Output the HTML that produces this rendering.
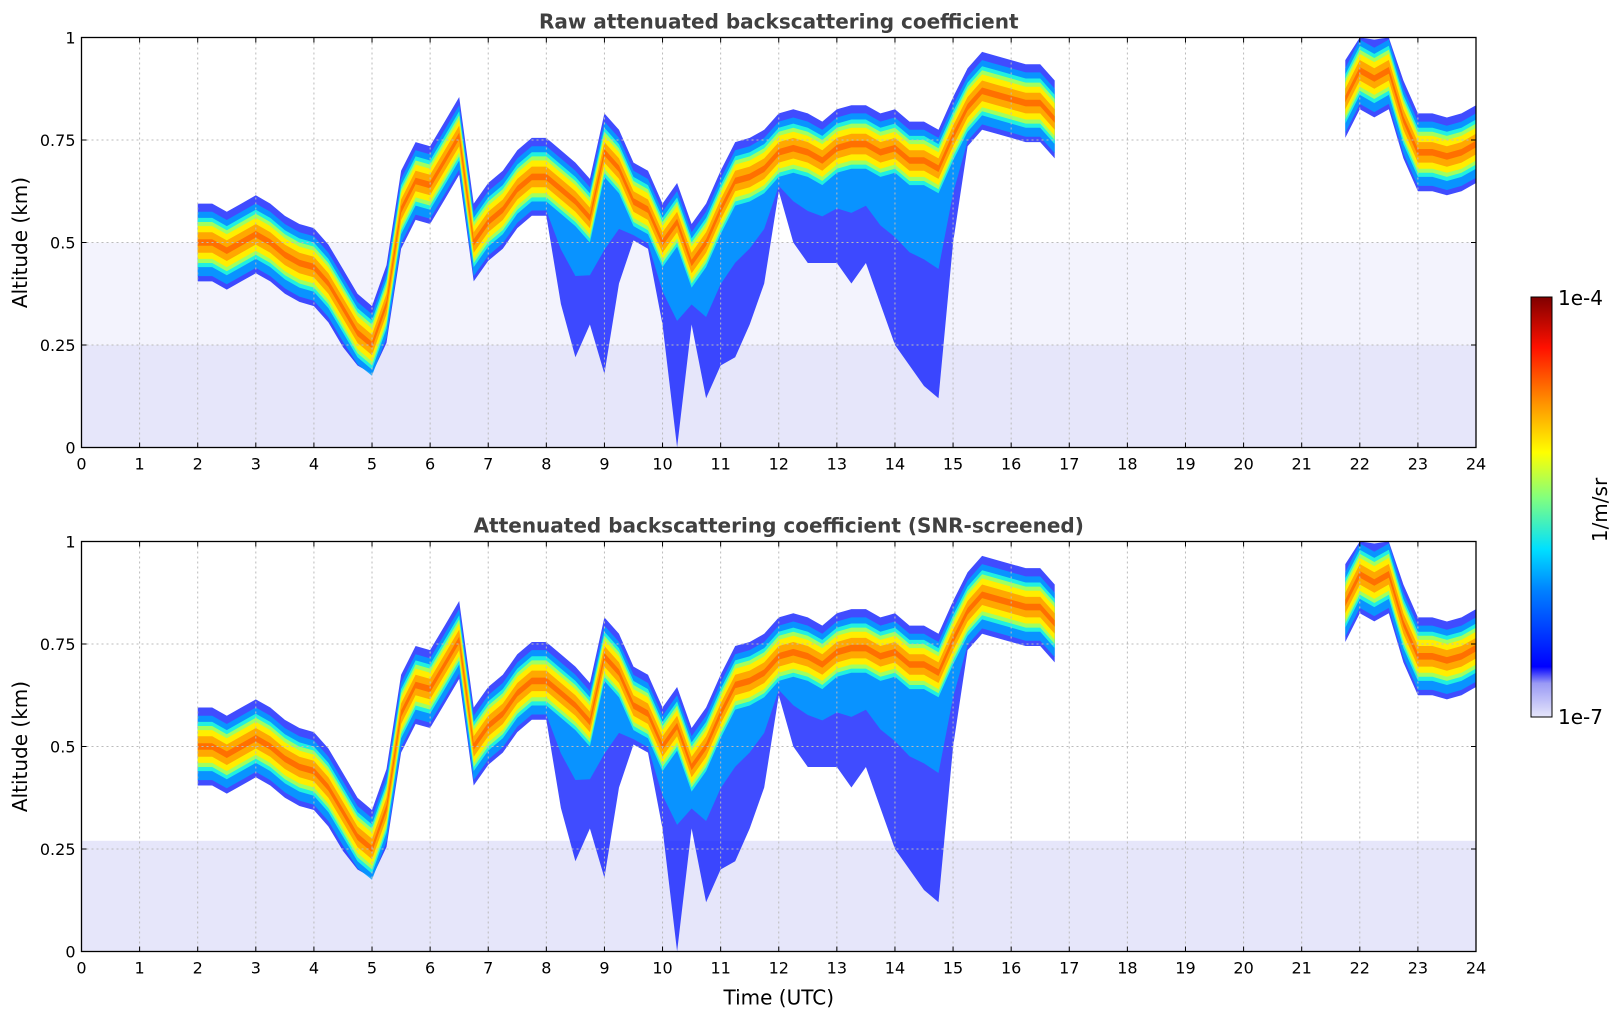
<!DOCTYPE html>
<html><head><meta charset="utf-8"><style>
html,body{margin:0;padding:0;background:#fff;}
svg{display:block;font-family:"DejaVu Sans","Liberation Sans",sans-serif;}
</style></head><body>
<svg id="chart" width="1621" height="1020" viewBox="0 0 1621 1020" xmlns="http://www.w3.org/2000/svg">
<defs>
<linearGradient id="cbar" x1="0" y1="1" x2="0" y2="0">
<stop offset="0" stop-color="#e6e6fa"/><stop offset="0.08" stop-color="#9a9af5"/><stop offset="0.12" stop-color="#0000ff"/>
<stop offset="0.3" stop-color="#0080ff"/><stop offset="0.4" stop-color="#00e0ff"/><stop offset="0.52" stop-color="#80ff80"/>
<stop offset="0.63" stop-color="#ffff00"/><stop offset="0.75" stop-color="#ff9000"/><stop offset="0.88" stop-color="#ff1000"/><stop offset="1" stop-color="#800000"/>
</linearGradient>
</defs>
<g id="panels"></g>
<g>
<rect x="1531" y="297" width="21" height="420" fill="url(#cbar)" stroke="#000" stroke-width="1"/>
<text x="1558" y="305" font-size="20">1e-4</text>
<text x="1558" y="724" font-size="20">1e-7</text>
<text transform="translate(1607,510) rotate(-90)" font-size="20" text-anchor="middle">1/m/sr</text>
</g>
</svg>
<script>
const times = [];
for (let i = 0; i <= 96; i++) times.push(i * 0.25);
const n = null;
const cloudCenter = [n,n,n,n,n,n,n,n,
0.50,0.50,0.48,0.50,0.52,0.50,0.47,0.45,0.44,0.40,0.34,0.28,0.25,0.35,0.58,0.65,0.64,0.70,0.76,0.50,0.55,0.58,0.63,0.66,0.66,0.63,0.60,0.56,0.72,0.68,0.60,0.58,0.50,0.55,0.45,0.50,0.58,0.65,0.66,0.68,0.72,0.73,0.72,0.70,0.73,0.74,0.74,0.72,0.73,0.70,0.70,0.68,0.76,0.83,0.87,0.86,0.85,0.84,0.84,0.80,
n,n,n,n,n,n,n,n,n,n,n,n,n,n,n,n,n,n,n,
0.85,0.92,0.90,0.92,0.80,0.72,0.72,0.71,0.72,0.74];
const streakBottom = [n,n,n,n,n,n,n,n,
n,n,n,n,n,n,n,n,n,n,n,0.20,0.18,n,n,n,n,n,n,n,n,n,n,n,n,0.35,0.22,0.30,0.18,0.40,n,n,0.30,0.0,0.30,0.12,0.20,0.22,0.30,0.40,n,0.50,0.45,0.45,0.45,0.40,0.45,0.35,0.25,0.20,0.15,0.12,0.50,n,n,n,n,n,n,n,
n,n,n,n,n,n,n,n,n,n,n,n,n,n,n,n,n,n,n,
n,n,n,n,n,n,n,n,n,n];
const xTicks = [];
for (let i = 0; i <= 24; i++) xTicks.push(i);
const yTicks = [0, 0.25, 0.5, 0.75, 1];
const yTickLabels = ['0', '0.25', '0.5', '0.75', '1'];

const NS = 'http://www.w3.org/2000/svg';
const X0 = 81.5, X1 = 1476, PH = 410;
const xs = t => X0 + t / 24 * (X1 - X0);
function mk(tag, attrs, parent) {
  const e = document.createElementNS(NS, tag);
  for (const k in attrs) e.setAttribute(k, attrs[k]);
  parent.appendChild(e); return e;
}
const root = document.getElementById('panels');

function segments() {
  const segs = []; let cur = null;
  for (let i = 0; i < times.length; i++) {
    if (cloudCenter[i] === null) { if (cur) { segs.push(cur); cur = null; } }
    else { if (!cur) cur = []; cur.push(i); }
  }
  if (cur) segs.push(cur);
  return segs;
}

function drawPanel(y0, title, raw, showXLabel) {
  const ys = a => y0 + PH * (1 - Math.max(0, Math.min(1, a)));
  const g = mk('g', {}, root);
  
  
  if (raw) {
    const sp = mk('rect', {x: X0, y: ys(0.5), width: X1 - X0, height: ys(0.25) - ys(0.5), fill: '#f3f3fd'}, g);
    
    
  }
  const bg = mk('rect', {x: X0, y: ys(raw ? 0.25 : 0.27), width: X1 - X0, height: ys(0) - ys(raw ? 0.25 : 0.27), fill: '#e6e6fa'}, g);
  
  
  const bands = [
    {c: '#0010ff', up: 0.095, lo: 'streak', op: 0.75},
    {c: '#00a0ff', up: 0.075, lo: 'half', op: 0.85},
    {c: '#20f0e0', up: 0.06, lo: 0.06, op: 1},
    {c: '#a0ff60', up: 0.05, lo: 0.05, op: 1},
    {c: '#ffee00', up: 0.04, lo: 0.04, op: 1},
    {c: '#ffa800', up: 0.025, lo: 0.025, op: 1},
    {c: '#ff7000', up: 0.008, lo: 0.008, op: 1}
  ];
  segments().forEach(seg => {
    bands.forEach(b => {
      let top = [], bot = [];
      seg.forEach(i => {
        const c = cloudCenter[i];
        const sb = streakBottom[i] === null ? c - 0.095 : streakBottom[i];
        let lo;
        if (b.lo === 'streak') lo = sb;
        else if (b.lo === 'half') lo = Math.min(c - 0.075, (c - 0.075) - ((c - 0.075) - sb) * 0.35);
        else lo = c - b.lo;
        top.push(xs(times[i]).toFixed(1) + ',' + ys(c + b.up).toFixed(1));
        bot.unshift(xs(times[i]).toFixed(1) + ',' + ys(lo).toFixed(1));
      });
      const p = mk('polygon', {points: top.concat(bot).join(' '), fill: b.c, 'fill-opacity': b.op}, g);
      
      
    });
  });
  xTicks.forEach(t => {
    if (t > 0 && t < 24) mk('line', {x1: xs(t), x2: xs(t), y1: y0, y2: y0 + PH, stroke: '#bbb', 'stroke-dasharray': '2,3', 'stroke-width': 1}, g);
    mk('line', {x1: xs(t), x2: xs(t), y1: y0 + PH, y2: y0 + PH - 5, stroke: '#000'}, g);
    mk('line', {x1: xs(t), x2: xs(t), y1: y0, y2: y0 + 5, stroke: '#000'}, g);
    const tl = mk('text', {x: xs(t), y: y0 + PH + 22, 'font-size': 16, 'text-anchor': 'middle'}, g);
    tl.textContent = t;
    
    
  });
  yTicks.forEach((a, k) => {
    if (a > 0 && a < 1) mk('line', {x1: X0, x2: X1, y1: ys(a), y2: ys(a), stroke: '#bbb', 'stroke-dasharray': '2,3', 'stroke-width': 1}, g);
    mk('line', {x1: X0, x2: X0 + 5, y1: ys(a), y2: ys(a), stroke: '#000'}, g);
    mk('line', {x1: X1, x2: X1 - 5, y1: ys(a), y2: ys(a), stroke: '#000'}, g);
    const tl = mk('text', {x: X0 - 6, y: ys(a) + 6, 'font-size': 16, 'text-anchor': 'end'}, g);
    tl.textContent = yTickLabels[k];
    
    
  });
  mk('rect', {x: X0, y: y0, width: X1 - X0, height: PH, fill: 'none', stroke: '#000', 'stroke-width': 1.3}, g);
  const tt = mk('text', {x: (X0 + X1) / 2, y: y0 - 9, 'font-size': 20, 'font-weight': 'bold', 'text-anchor': 'middle', fill: '#404040'}, g);
  tt.textContent = title;
  
  
  const yl = mk('text', {transform: 'translate(27,' + (y0 + PH / 2) + ') rotate(-90)', 'font-size': 20, 'text-anchor': 'middle'}, g);
  yl.textContent = 'Altitude (km)';
  
  
  if (showXLabel) {
    const xl = mk('text', {x: (X0 + X1) / 2, y: y0 + PH + 53, 'font-size': 20, 'text-anchor': 'middle'}, g);
    xl.textContent = 'Time (UTC)';
    
    
  }
}
drawPanel(37.5, 'Raw attenuated backscattering coefficient', true, false);
drawPanel(541.5, 'Attenuated backscattering coefficient (SNR-screened)', false, true);
</script>
</body></html>
